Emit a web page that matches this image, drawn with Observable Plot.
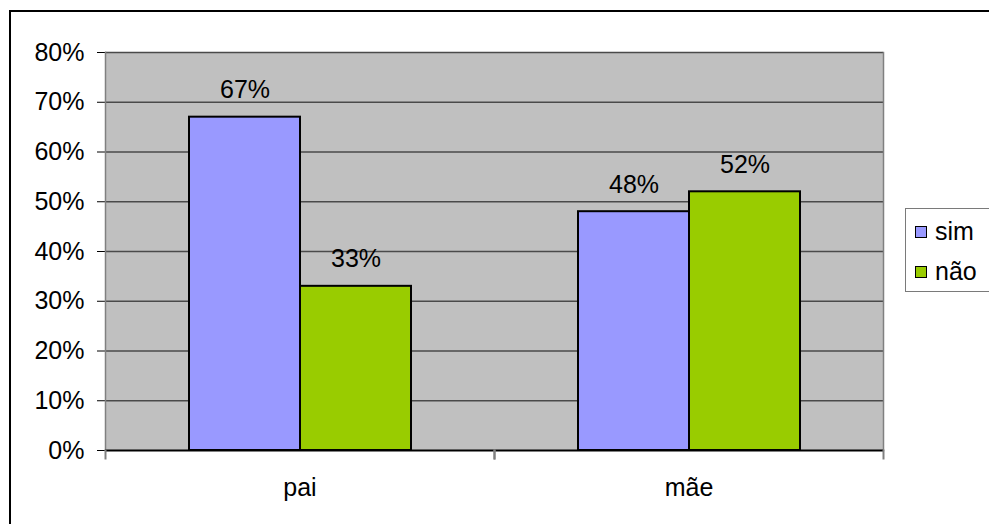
<!DOCTYPE html>
<html>
<head>
<meta charset="utf-8">
<script src="https://cdn.jsdelivr.net/npm/d3@7"></script>
<script src="https://cdn.jsdelivr.net/npm/@observablehq/plot@0.6"></script>
<style>
  html, body { margin: 0; padding: 0; background: #fff; overflow: hidden; }
  #chart { position: relative; width: 989px; height: 524px; overflow: hidden;
           font-family: "Liberation Sans", Arial, sans-serif; }
  #border { position: absolute; left: 9px; top: 10px; width: 1200px; height: 1200px;
            border-top: 2px solid #000; border-left: 2px solid #000; pointer-events: none; }
  #plot { position: absolute; left: 0; top: 0; }
  #legend { position: absolute; left: 905px; top: 208px; width: 120px; height: 82px;
            border: 1.5px solid #7a7a7a; background: #fff; font-size: 25px; }
  .item { position: absolute; left: 9px; display: flex; align-items: center; white-space: nowrap; }
  .swatch { width: 10px; height: 10px; border: 1px solid #000; margin-right: 8px; }
</style>
</head>
<body>
<div id="chart">
  <div id="plot"></div>
  <div id="border"></div>
  <div id="legend"></div>
</div>
<script>
// Categories, series and values
const categories = ["pai", "mãe"];
const series = ["sim", "não"];
const simValues = [0.67, 0.48];
const naoValues = [0.33, 0.52];
const seriesColors = ["#9999FF", "#99CC00"];
const yTicks = [0, 0.1, 0.2, 0.3, 0.4, 0.5, 0.6, 0.7, 0.8];

const pct = d3.format(".0%");

const rows = categories.flatMap((cat, i) => [
  {cat, serie: series[0], value: simValues[i]},
  {cat, serie: series[1], value: naoValues[i]}
]);

const chart = Plot.plot({
  width: 989,
  height: 524,
  marginLeft: 105,
  marginRight: 106,
  marginTop: 52,
  marginBottom: 74,
  style: {fontFamily: '"Liberation Sans", Arial, sans-serif', fontSize: "25px", color: "#000", background: "transparent"},
  fx: {domain: categories, padding: 0, axis: "bottom", tickSize: 0, tickPadding: 28, label: null},
  x: {domain: series, paddingInner: 0, paddingOuter: 0.752, axis: null},
  y: {domain: [0, 0.8], ticks: yTicks, tickFormat: pct, tickSize: 8, tickPadding: 13, label: null},
  color: {domain: series, range: seriesColors},
  marks: [
    // plot area background (stroked in the same grey so adjacent facets join seamlessly)
    Plot.frame({fill: "#C0C0C0", stroke: "#C0C0C0", strokeWidth: 1}),
    Plot.ruleY(yTicks.slice(1), {stroke: "#4a4a4a", strokeWidth: 1.5}),
    // outer left and right edges of the plot area
    Plot.frame({anchor: "left", facetAnchor: "left", stroke: "#808080", strokeWidth: 1.5}),
    Plot.frame({anchor: "right", facetAnchor: "right", stroke: "#808080", strokeWidth: 1.5}),
    Plot.barY(rows, {fx: "cat", x: "serie", y: "value", fill: "serie", stroke: "#000", strokeWidth: 2}),
    Plot.ruleY([0], {stroke: "#000", strokeWidth: 2}),
    // category boundary ticks below the axis
    Plot.frame({anchor: "left", stroke: "#808080", strokeWidth: 2, insetTop: 398, insetBottom: -8}),
    Plot.frame({anchor: "right", stroke: "#808080", strokeWidth: 2, insetTop: 398, insetBottom: -8}),
    // value labels above the bars
    Plot.text(rows, {fx: "cat", x: "serie", y: "value", text: d => pct(d.value), dy: -27, fill: "#000"})
  ]
});
document.getElementById("plot").appendChild(chart);

// Legend
const legend = d3.select("#legend");
series.forEach((s, i) => {
  const item = legend.append("div").attr("class", "item").style("top", `${8 + i * 40}px`);
  item.append("div").attr("class", "swatch").style("background", seriesColors[i]);
  item.append("span").text(s);
});
</script>
</body>
</html>
